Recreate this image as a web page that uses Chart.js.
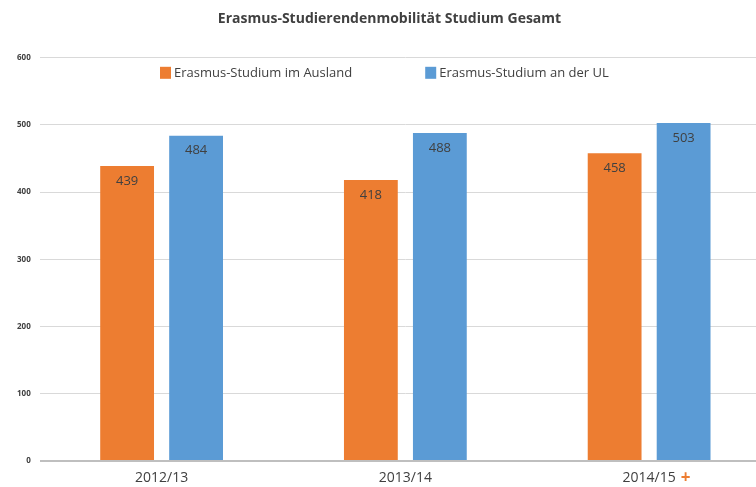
<!DOCTYPE html>
<html>
<head>
<meta charset="utf-8">
<script src="https://cdn.jsdelivr.net/npm/chart.js@4"></script>
<style>
	html, body { margin: 0; padding: 0; background: #fff; overflow: hidden; }
	#wrap { width: 771px; height: 487px; }
</style>
</head>
<body>
<div id="wrap"><canvas id="graficoErasmus"></canvas></div>
<script>
var kategorien = ["2012/13", "2013/14", "2014/15"]
var markierung = ["", "", "+"]
var auslandWerte = [439, 418, 458]
var ulWerte = [484, 488, 503]
var serienNamen = ["Erasmus-Studium im Ausland", "Erasmus-Studium an der UL"]
var yTicks = [0, 100, 200, 300, 400, 500, 600]

var farben = {
	orange: "#ED7D31",
	blue: "#5B9BD5",
	text: "#404040",
}
var schrift = "'Open Sans', 'DejaVu Sans', sans-serif"

// Werte oben in die Balken schreiben
var wertePlugin = {
	id: "werte",
	afterDatasetsDraw: function (chart) {
		var ctx = chart.ctx
		ctx.save()
		ctx.font = "13px " + schrift
		ctx.fillStyle = farben.text
		ctx.textAlign = "center"
		ctx.textBaseline = "middle"
		chart.data.datasets.forEach(function (ds, i) {
			chart.getDatasetMeta(i).data.forEach(function (bar, j) {
				ctx.fillText(ds.data[j], bar.x, bar.y + 15)
			})
		})
		ctx.restore()
	}
}

// Legende innerhalb der Zeichenflaeche, plus Markierung an der Achse
var legendePlugin = {
	id: "legende",
	afterDraw: function (chart) {
		var ctx = chart.ctx
		var area = chart.chartArea
		ctx.save()
		ctx.font = "13px " + schrift
		ctx.textBaseline = "middle"
		var y = area.top + 15
		var x = 160
		chart.data.datasets.forEach(function (ds) {
			ctx.fillStyle = ds.backgroundColor
			ctx.fillRect(x, y - 6, 11, 12)
			ctx.fillStyle = farben.text
			ctx.textAlign = "left"
			ctx.fillText(ds.label, x + 14, y)
			x += 14 + ctx.measureText(ds.label).width + 73
		})

		var xScale = chart.scales.x
		markierung.forEach(function (m, j) {
			if (!m) return
			ctx.font = "14px " + schrift
			var w = ctx.measureText(kategorien[j]).width
			var px = xScale.getPixelForValue(j) + w / 2 + 10
			ctx.font = "bold 17px " + schrift
			ctx.fillStyle = farben.orange
			ctx.textAlign = "center"
			ctx.fillText(m, px, xScale.top + 17)
		})
		ctx.restore()
	}
}

var configChart = {
	type: "bar",
	data: {
		labels: kategorien,
		datasets: [{
			label: serienNamen[0],
			data: auslandWerte,
			backgroundColor: farben.orange,
			categoryPercentage: 0.566,
			barPercentage: 0.78,
		}, {
			label: serienNamen[1],
			data: ulWerte,
			backgroundColor: farben.blue,
			categoryPercentage: 0.566,
			barPercentage: 0.78,
		}]
	},
	options: {
		responsive: true,
		maintainAspectRatio: false,
		animation: false,
		layout: { padding: { left: 8, right: 0, top: 0, bottom: 0 } },
		plugins: {
			legend: { display: false },
			tooltip: { enabled: false },
			title: {
				display: true,
				text: "Erasmus-Studierendenmobilität Studium Gesamt",
				color: farben.text,
				font: { family: schrift, size: 14, weight: "bold" },
				padding: { top: 11, bottom: 30 },
			},
		},
		scales: {
			x: {
				grid: { display: false },
				border: { display: false },
				afterFit: function (axis) { axis.height = 26 },
				ticks: {
					color: farben.text,
					font: { family: schrift, size: 14 },
					padding: 1,
				},
			},
			y: {
				min: 0,
				max: 600,
				afterBuildTicks: function (axis) {
					axis.ticks = yTicks.map(function (v) { return { value: v } })
				},
				border: { display: false },
				grid: {
					drawTicks: false,
					color: function (c) { return c.tick && c.tick.value === 0 ? "#bfbfbf" : "#d9d9d9" },
					lineWidth: function (c) { return c.tick && c.tick.value === 0 ? 2 : 1 },
				},
				ticks: {
					color: farben.text,
					font: { family: schrift, size: 8, weight: "bold" },
					padding: 9,
				},
			},
		},
	},
	plugins: [wertePlugin, legendePlugin],
}

var ctx = document.getElementById("graficoErasmus").getContext("2d")
window.myBar = new Chart(ctx, configChart)
</script>
</body>
</html>
